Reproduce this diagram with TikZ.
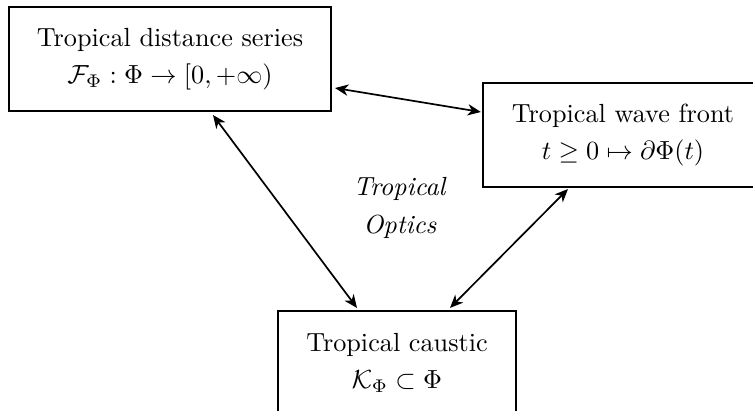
\documentclass[tikz,border=0pt]{standalone}
\usetikzlibrary{arrows.meta}
\begin{document}
\begin{tikzpicture}[x=0.3817pt,y=-0.3817pt,
  box/.style={draw,line width=0.8pt,align=center,inner sep=0pt,
    minimum height=39.7pt},
  tip/.style={Stealth[length=5pt,width=4.3pt,inset=1.5pt]},
  link/.style={line width=0.65pt,{Stealth[length=5pt,width=4.3pt,inset=1.5pt]}-{Stealth[length=5pt,width=4.3pt,inset=1.5pt]}}]
\useasboundingbox (0,0) rectangle (753,411);
\node[box,minimum width=122.9pt] (tl) at (170,59)
  {Tropical distance series\\[2.3pt] $\mathcal{F}_{\Phi}:\Phi\to[0,+\infty)$};
\node[box,minimum width=110pt] (rw) at (627,135) {};
\node[align=center,inner sep=0pt] (rwt) at (623,135)
  {Tropical wave front\\[2.3pt] $t\geq 0\mapsto\partial\Phi(t)$};
\node[box,minimum width=90.8pt] (bc) at (397,363)
  {Tropical caustic\\[2.3pt] $\mathcal{K}_{\Phi}\subset\Phi$};
\node[align=center,inner sep=0pt] (opt) at (400,208)
  {\textit{Tropical}\\[2.3pt] \textit{Optics}};
\draw[link] ([shift={(3,29)}]tl.east) -- ([shift={(-1,-23)}]rw.west);
\draw[link] ([shift={(43,3)}]tl.south) -- ([shift={(-40,-2)}]bc.north);
\draw[link] ([shift={(-59,1)}]rw.south) -- ([shift={(53,-2)}]bc.north);
\end{tikzpicture}
\end{document}
